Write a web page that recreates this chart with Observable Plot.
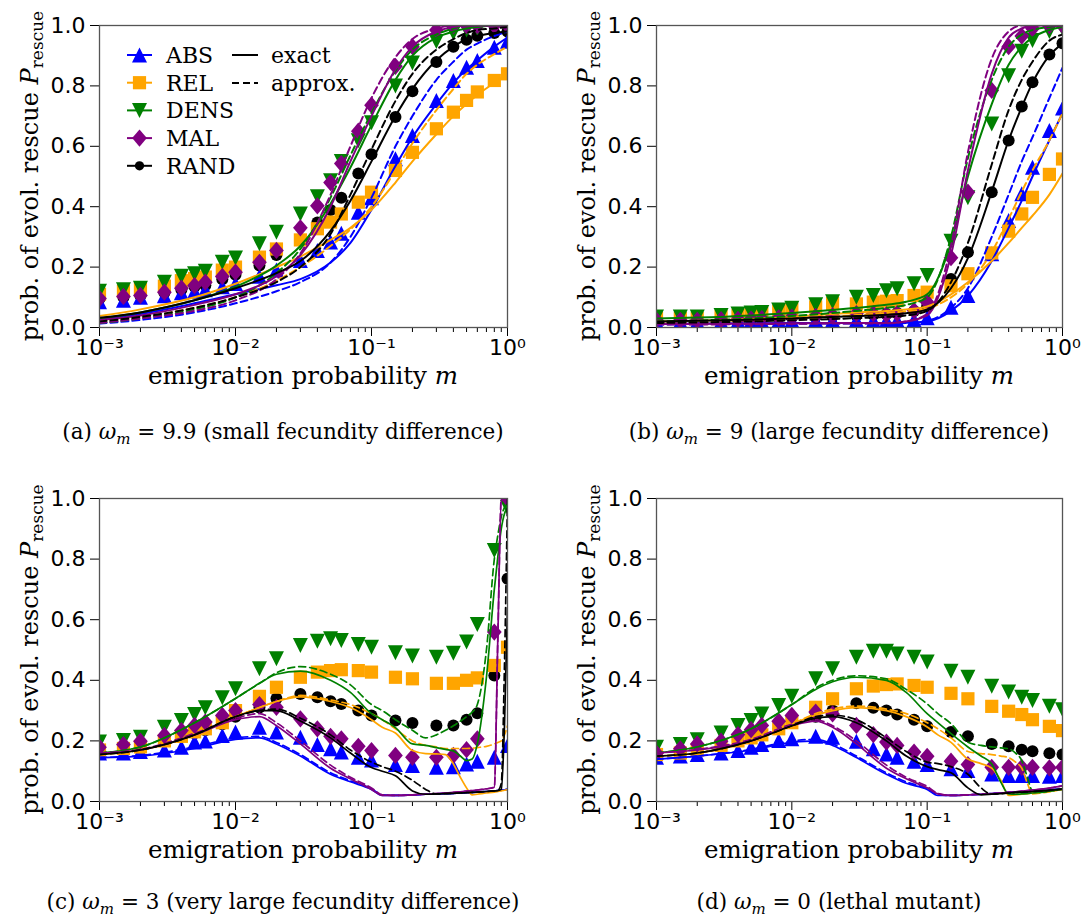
<!DOCTYPE html>
<html><head><meta charset="utf-8">
<script src="https://cdn.jsdelivr.net/npm/d3@7"></script>
<script src="https://cdn.jsdelivr.net/npm/@observablehq/plot@0.6"></script>
<style>
body{margin:0;background:#fff;}
#wrap{position:relative;width:1084px;height:918px;overflow:hidden;}
#wrap svg{position:absolute;}
</style></head><body><div id="wrap"></div>
<script>
// ---------------- data ----------------
const strategies = ["ABS","REL","DENS","MAL","RAND"];
const colors = ["#0000ff","#ffa500","#008000","#800080","#000000"];
const yTicks = [0,0.2,0.4,0.6,0.8,1.0];
const xMajor = [0.001,0.01,0.1,1];
const xTickLabels = ["10⁻³","10⁻²","10⁻¹","10⁰"];
const captions = [
  ["(a) ","ω","m"," = 9.9 (small fecundity difference)"],
  ["(b) ","ω","m"," = 9 (large fecundity difference)"],
  ["(c) ","ω","m"," = 3 (very large fecundity difference)"],
  ["(d) ","ω","m"," = 0 (lethal mutant)"]
];

// simulation points (markers)
const simM = [0.001,0.0015,0.002,0.003,0.004,0.005,0.006,0.008,0.01,0.015,0.02,0.03,0.04,0.05,0.06,0.08,0.1,0.15,0.2,0.3,0.4,0.5,0.6,0.8,1.0];

const a_ABS  = [0.085,0.09,0.10,0.105,0.115,0.12,0.125,0.135,0.146,0.17,0.19,0.222,0.255,0.283,0.312,0.382,0.43,0.559,0.636,0.752,0.818,0.862,0.884,0.928,0.948];
const a_REL  = [0.11,0.12,0.13,0.137,0.155,0.162,0.167,0.19,0.20,0.233,0.26,0.29,0.327,0.349,0.376,0.415,0.448,0.52,0.58,0.658,0.713,0.752,0.78,0.818,0.84];
const a_DENS = [0.12,0.125,0.13,0.15,0.17,0.178,0.186,0.216,0.23,0.277,0.315,0.376,0.433,0.486,0.55,0.618,0.678,0.8,0.876,0.947,0.975,0.985,0.99,0.995,1.0];
const a_MAL  = [0.096,0.103,0.106,0.117,0.13,0.139,0.15,0.169,0.183,0.216,0.255,0.33,0.403,0.48,0.543,0.65,0.736,0.865,0.93,0.985,1.0,1.0,1.0,1.0,1.0];
const a_RAND = [0.095,0.1,0.105,0.115,0.125,0.135,0.14,0.16,0.175,0.205,0.24,0.29,0.348,0.389,0.43,0.51,0.574,0.697,0.782,0.879,0.93,0.953,0.966,0.975,0.98];

const b_ABS  = [0.02,0.02,0.02,0.02,0.022,0.022,0.022,0.023,0.024,0.025,0.025,0.025,0.024,0.024,0.024,0.026,0.032,0.067,0.106,0.244,0.354,0.443,0.531,0.652,0.727];
const b_REL  = [0.03,0.03,0.03,0.037,0.04,0.044,0.046,0.054,0.06,0.068,0.079,0.078,0.084,0.087,0.089,0.106,0.117,0.138,0.178,0.247,0.319,0.376,0.431,0.507,0.558];
const b_DENS = [0.035,0.035,0.035,0.04,0.045,0.048,0.05,0.058,0.064,0.075,0.085,0.1,0.106,0.122,0.128,0.145,0.172,0.286,0.43,0.674,0.834,0.915,0.95,0.98,0.99];
const b_MAL  = [0.024,0.024,0.024,0.026,0.027,0.028,0.029,0.032,0.034,0.037,0.039,0.046,0.046,0.043,0.046,0.056,0.084,0.231,0.448,0.785,0.93,0.965,0.99,1.0,1.0];
const b_RAND = [0.025,0.025,0.026,0.027,0.028,0.029,0.03,0.032,0.034,0.036,0.038,0.04,0.042,0.045,0.048,0.055,0.07,0.161,0.249,0.448,0.619,0.732,0.812,0.904,0.941];

const c_ABS  = [0.16,0.16,0.165,0.17,0.179,0.196,0.2,0.218,0.229,0.245,0.229,0.212,0.188,0.174,0.163,0.146,0.137,0.122,0.119,0.113,0.115,0.124,0.133,0.146,0.185];
const c_REL  = [0.17,0.175,0.18,0.2,0.215,0.23,0.24,0.26,0.30,0.347,0.377,0.41,0.427,0.432,0.435,0.432,0.427,0.41,0.405,0.39,0.39,0.40,0.408,0.449,0.509];
const c_DENS = [0.196,0.201,0.212,0.245,0.267,0.287,0.309,0.342,0.372,0.438,0.471,0.515,0.529,0.537,0.531,0.518,0.509,0.491,0.48,0.476,0.489,0.526,0.584,0.828,0.97];
const c_MAL  = [0.179,0.188,0.199,0.218,0.234,0.251,0.262,0.284,0.30,0.32,0.311,0.273,0.24,0.215,0.207,0.182,0.168,0.152,0.146,0.146,0.152,0.171,0.207,0.559,1.0];
const c_RAND = [0.165,0.17,0.18,0.2,0.215,0.225,0.235,0.255,0.28,0.31,0.34,0.355,0.344,0.331,0.322,0.30,0.284,0.267,0.259,0.251,0.251,0.27,0.291,0.416,0.735];

const d_ABS  = [0.146,0.15,0.155,0.16,0.168,0.179,0.188,0.201,0.207,0.215,0.212,0.199,0.174,0.157,0.146,0.133,0.122,0.108,0.102,0.091,0.086,0.086,0.086,0.083,0.086];
const d_REL  = [0.155,0.16,0.17,0.185,0.2,0.21,0.22,0.24,0.26,0.311,0.339,0.372,0.381,0.386,0.388,0.383,0.377,0.357,0.339,0.314,0.298,0.287,0.27,0.248,0.234];
const d_DENS = [0.179,0.188,0.204,0.226,0.251,0.267,0.289,0.317,0.347,0.405,0.438,0.476,0.496,0.496,0.487,0.476,0.46,0.43,0.41,0.38,0.361,0.344,0.333,0.314,0.303];
const d_MAL  = [0.159,0.174,0.19,0.199,0.221,0.237,0.251,0.265,0.284,0.295,0.289,0.251,0.221,0.196,0.185,0.163,0.149,0.133,0.122,0.113,0.113,0.113,0.113,0.111,0.113];
const d_RAND = [0.155,0.16,0.17,0.185,0.2,0.21,0.22,0.24,0.26,0.28,0.3,0.324,0.309,0.30,0.287,0.27,0.248,0.229,0.215,0.19,0.182,0.171,0.166,0.159,0.155];

// analytic curves (exact = solid, approx = dashed)
const gridAB = [0.001,0.002,0.005,0.01,0.02,0.03,0.05,0.07,0.1,0.15,0.2,0.3,0.4,0.5,0.6,0.8,1.0];
const a_ABS_ex  = [0.028,0.045,0.08,0.11,0.14,0.16,0.215,0.28,0.39,0.535,0.63,0.74,0.81,0.855,0.885,0.93,0.96];
const a_ABS_ap  = [0.013,0.025,0.05,0.08,0.12,0.15,0.215,0.3,0.43,0.6,0.7,0.82,0.88,0.92,0.94,0.965,0.98];
const a_REL_ex  = [0.038,0.06,0.1,0.145,0.2,0.235,0.29,0.33,0.39,0.48,0.55,0.64,0.7,0.74,0.77,0.81,0.84];
const a_REL_ap  = [0.02,0.035,0.065,0.1,0.155,0.2,0.27,0.325,0.4,0.52,0.61,0.72,0.79,0.84,0.87,0.905,0.93];
const a_DENS_ex = [0.03,0.05,0.09,0.135,0.205,0.27,0.41,0.53,0.67,0.82,0.9,0.96,0.98,0.99,0.995,1.0,1.0];
const a_DENS_ap = [0.015,0.03,0.06,0.1,0.18,0.26,0.43,0.57,0.71,0.85,0.92,0.97,0.99,1.0,1.0,1.0,1.0];
const a_MAL_ex  = [0.025,0.04,0.075,0.11,0.17,0.24,0.4,0.55,0.7,0.855,0.93,0.98,0.995,1.0,1.0,1.0,1.0];
const a_MAL_ap  = [0.015,0.03,0.055,0.09,0.16,0.245,0.44,0.6,0.76,0.895,0.955,0.99,1.0,1.0,1.0,1.0,1.0];
const a_RAND_ex = [0.032,0.05,0.09,0.13,0.18,0.22,0.32,0.42,0.55,0.7,0.79,0.885,0.93,0.955,0.965,0.975,0.98];
const a_RAND_ap = [0.02,0.035,0.065,0.1,0.15,0.2,0.31,0.44,0.59,0.75,0.84,0.92,0.955,0.975,0.985,0.99,0.995];

const b_ABS_ex  = [0.012,0.013,0.014,0.015,0.015,0.015,0.015,0.016,0.02,0.055,0.105,0.22,0.33,0.42,0.5,0.62,0.71];
const b_ABS_ap  = [0.01,0.011,0.012,0.013,0.013,0.013,0.013,0.015,0.022,0.065,0.13,0.3,0.44,0.55,0.63,0.76,0.86];
const b_REL_ex  = [0.02,0.022,0.028,0.035,0.045,0.05,0.055,0.06,0.07,0.11,0.15,0.22,0.28,0.33,0.37,0.44,0.51];
const b_REL_ap  = [0.015,0.017,0.022,0.028,0.036,0.041,0.048,0.054,0.063,0.1,0.145,0.25,0.36,0.45,0.52,0.62,0.71];
const b_DENS_ex = [0.03,0.033,0.04,0.048,0.058,0.065,0.075,0.085,0.11,0.28,0.5,0.74,0.87,0.93,0.96,0.985,0.995];
const b_DENS_ap = [0.02,0.023,0.03,0.038,0.048,0.055,0.065,0.075,0.1,0.3,0.56,0.82,0.93,0.97,0.985,0.995,1.0];
const b_MAL_ex  = [0.012,0.012,0.013,0.014,0.015,0.015,0.015,0.02,0.04,0.24,0.52,0.84,0.96,0.99,1.0,1.0,1.0];
const b_MAL_ap  = [0.01,0.01,0.011,0.012,0.013,0.013,0.014,0.02,0.045,0.27,0.58,0.89,0.98,1.0,1.0,1.0,1.0];
const b_RAND_ex = [0.02,0.022,0.026,0.03,0.035,0.038,0.042,0.047,0.06,0.13,0.23,0.45,0.62,0.73,0.81,0.9,0.94];
const b_RAND_ap = [0.015,0.017,0.02,0.024,0.028,0.031,0.035,0.04,0.055,0.15,0.28,0.54,0.72,0.82,0.88,0.95,0.97];

const gridCD = [0.001,0.002,0.005,0.01,0.015,0.02,0.03,0.05,0.07,0.1,0.12,0.15,0.2,0.25,0.3,0.35,0.4,0.45,0.5,0.55,0.6,0.7,0.8,0.85,0.9,0.95,1.0];
const c_ABS_ex  = [0.145,0.15,0.175,0.205,0.21,0.19,0.15,0.09,0.065,0.04,0.02,0.02,0.022,0.024,0.025,0.026,0.027,0.028,0.029,0.03,0.031,0.033,0.035,0.036,0.037,0.038,0.04];
const c_ABS_ap  = [0.145,0.152,0.18,0.21,0.215,0.195,0.155,0.095,0.068,0.042,0.022,0.02,0.022,0.024,0.025,0.026,0.027,0.028,0.029,0.03,0.031,0.033,0.035,0.036,0.037,0.038,0.04];
const c_REL_ex  = [0.155,0.17,0.22,0.28,0.31,0.33,0.345,0.33,0.31,0.27,0.245,0.226,0.168,0.158,0.157,0.155,0.124,0.08,0.045,0.022,0.024,0.028,0.031,0.033,0.035,0.037,0.04];
const c_REL_ap  = [0.155,0.17,0.22,0.28,0.31,0.33,0.35,0.335,0.32,0.29,0.27,0.24,0.2,0.185,0.18,0.175,0.175,0.175,0.175,0.176,0.178,0.182,0.19,0.195,0.2,0.22,0.25];
const c_DENS_ex = [0.16,0.18,0.26,0.34,0.39,0.42,0.43,0.40,0.36,0.29,0.27,0.244,0.19,0.185,0.178,0.172,0.167,0.15,0.135,0.14,0.19,0.41,0.7,0.81,0.9,0.95,0.97];
const c_DENS_ap = [0.16,0.18,0.26,0.34,0.39,0.425,0.445,0.42,0.385,0.32,0.3,0.27,0.235,0.21,0.22,0.235,0.25,0.265,0.28,0.295,0.32,0.5,0.8,0.88,0.94,0.97,0.98];
const c_MAL_ex  = [0.16,0.17,0.22,0.27,0.28,0.25,0.19,0.11,0.075,0.04,0.02,0.02,0.022,0.024,0.026,0.028,0.03,0.032,0.034,0.036,0.038,0.042,0.047,0.55,1.0,1.0,1.0];
const c_MAL_ap  = [0.16,0.172,0.225,0.275,0.29,0.26,0.2,0.12,0.08,0.045,0.022,0.02,0.022,0.024,0.026,0.028,0.03,0.032,0.034,0.036,0.038,0.042,0.047,0.55,1.0,1.0,1.0];
const c_RAND_ex = [0.155,0.17,0.22,0.28,0.3,0.3,0.266,0.21,0.16,0.112,0.1,0.085,0.035,0.024,0.025,0.026,0.027,0.028,0.029,0.03,0.031,0.033,0.035,0.036,0.04,0.25,0.64];
const c_RAND_ap = [0.155,0.17,0.22,0.28,0.3,0.305,0.275,0.22,0.17,0.13,0.115,0.1,0.07,0.04,0.025,0.026,0.027,0.028,0.029,0.03,0.031,0.033,0.035,0.036,0.06,0.45,1.0];

const d_ABS_ex  = [0.14,0.15,0.17,0.195,0.2,0.185,0.145,0.09,0.06,0.04,0.02,0.02,0.022,0.024,0.026,0.028,0.03,0.031,0.032,0.033,0.034,0.036,0.038,0.039,0.04,0.041,0.042];
const d_ABS_ap  = [0.14,0.15,0.172,0.2,0.205,0.19,0.15,0.095,0.065,0.042,0.022,0.02,0.022,0.024,0.026,0.028,0.03,0.031,0.032,0.033,0.034,0.036,0.038,0.039,0.04,0.041,0.042];
const d_REL_ex  = [0.15,0.16,0.2,0.255,0.285,0.3,0.31,0.3,0.28,0.246,0.22,0.195,0.14,0.125,0.11,0.07,0.02,0.022,0.024,0.026,0.028,0.031,0.034,0.036,0.038,0.039,0.04];
const d_REL_ap  = [0.15,0.16,0.2,0.255,0.29,0.305,0.315,0.305,0.29,0.26,0.24,0.21,0.165,0.158,0.155,0.15,0.145,0.13,0.11,0.06,0.025,0.028,0.032,0.034,0.036,0.038,0.04];
const d_DENS_ex = [0.16,0.18,0.24,0.32,0.37,0.395,0.41,0.40,0.36,0.29,0.26,0.224,0.18,0.15,0.124,0.064,0.025,0.024,0.025,0.026,0.028,0.031,0.034,0.036,0.038,0.039,0.04];
const d_DENS_ap = [0.16,0.18,0.24,0.32,0.375,0.40,0.415,0.405,0.37,0.322,0.29,0.257,0.196,0.185,0.18,0.177,0.174,0.16,0.135,0.08,0.035,0.03,0.034,0.036,0.038,0.039,0.04];
const d_MAL_ex  = [0.16,0.17,0.2,0.25,0.265,0.245,0.19,0.11,0.075,0.045,0.025,0.02,0.022,0.024,0.026,0.028,0.03,0.032,0.034,0.036,0.038,0.041,0.044,0.046,0.048,0.05,0.052];
const d_MAL_ap  = [0.16,0.172,0.205,0.255,0.27,0.25,0.2,0.12,0.08,0.05,0.027,0.02,0.022,0.024,0.026,0.028,0.03,0.032,0.034,0.036,0.038,0.041,0.044,0.046,0.048,0.05,0.052];
const d_RAND_ex = [0.15,0.16,0.2,0.25,0.275,0.28,0.26,0.2,0.15,0.115,0.105,0.095,0.045,0.022,0.024,0.026,0.028,0.03,0.031,0.032,0.033,0.035,0.037,0.038,0.039,0.04,0.041];
const d_RAND_ap = [0.15,0.16,0.2,0.25,0.28,0.285,0.27,0.21,0.165,0.13,0.125,0.115,0.09,0.045,0.024,0.026,0.028,0.03,0.031,0.032,0.033,0.035,0.037,0.038,0.039,0.04,0.041];

// ---------------- symbols ----------------
const rad = s => Math.sqrt(s / Math.PI);
const triUp = {draw(c, s){const h = rad(s); c.moveTo(0,-h); c.lineTo(h,h); c.lineTo(-h,h); c.closePath();}};
const triDown = {draw(c, s){const h = rad(s); c.moveTo(0,h); c.lineTo(h,-h); c.lineTo(-h,-h); c.closePath();}};
const square = {draw(c, s){const h = rad(s)*0.88; c.moveTo(-h,-h); c.lineTo(h,-h); c.lineTo(h,h); c.lineTo(-h,h); c.closePath();}};
const diamond = {draw(c, s){const r = rad(s); const w = r*0.98, h = r*1.15; c.moveTo(0,-h); c.lineTo(w,0); c.lineTo(0,h); c.lineTo(-w,0); c.closePath();}};
const circle = {draw(c, s){const r = rad(s)*0.8; c.moveTo(r,0); c.arc(0,0,r,0,2*Math.PI);}};
const symbols = [triUp, square, triDown, diamond, circle];
const R = 7.5;
// marker drawing order (RAND markers lie beneath the others)
const markerOrder = [4, 0, 1, 2, 3];

// ---------------- panels ----------------
const panels = [
  {sim:[a_ABS,a_REL,a_DENS,a_MAL,a_RAND], grid:gridAB,
   ex:[a_ABS_ex,a_REL_ex,a_DENS_ex,a_MAL_ex,a_RAND_ex], ap:[a_ABS_ap,a_REL_ap,a_DENS_ap,a_MAL_ap,a_RAND_ap],
   left:0, top:0, w:542, h:470, ml:99, mr:35, mt:25, mb:143, lw:2, legend:true, cap:captions[0], capDy:112},
  {sim:[b_ABS,b_REL,b_DENS,b_MAL,b_RAND], grid:gridAB,
   ex:[b_ABS_ex,b_REL_ex,b_DENS_ex,b_MAL_ex,b_RAND_ex], ap:[b_ABS_ap,b_REL_ap,b_DENS_ap,b_MAL_ap,b_RAND_ap],
   left:542, top:0, w:542, h:470, ml:114, mr:22, mt:25, mb:143, lw:2, legend:false, cap:captions[1], capDy:112},
  {sim:[c_ABS,c_REL,c_DENS,c_MAL,c_RAND], grid:gridCD,
   ex:[c_ABS_ex,c_REL_ex,c_DENS_ex,c_MAL_ex,c_RAND_ex], ap:[c_ABS_ap,c_REL_ap,c_DENS_ap,c_MAL_ap,c_RAND_ap],
   left:0, top:470, w:542, h:448, ml:99, mr:35, mt:28, mb:117, lw:1.7, legend:false, cap:captions[2], capDy:108},
  {sim:[d_ABS,d_REL,d_DENS,d_MAL,d_RAND], grid:gridCD,
   ex:[d_ABS_ex,d_REL_ex,d_DENS_ex,d_MAL_ex,d_RAND_ex], ap:[d_ABS_ap,d_REL_ap,d_DENS_ap,d_MAL_ap,d_RAND_ap],
   left:542, top:470, w:542, h:448, ml:114, mr:22, mt:28, mb:117, lw:1.7, legend:false, cap:captions[3], capDy:108}
];

const xMinor = [];
for (const e of [0.001,0.01,0.1]) for (let k = 2; k <= 9; k++) xMinor.push(+(k*e).toPrecision(3));

const wrap = document.getElementById("wrap");

for (const p of panels) {
  const marks = [
    Plot.axisY({ticks: yTicks, tickFormat: d => d.toFixed(1), tickSize: 9, tickPadding: 5, label: null}),
    Plot.axisX({ticks: xMajor, tickFormat: d => xTickLabels[xMajor.indexOf(d)], tickSize: 9, tickPadding: 3, label: null}),
    Plot.axisX({ticks: xMinor, tickFormat: () => "", tickSize: 5, label: null})
  ];
  for (const i of markerOrder) {
    const pts = simM.map((m, j) => ({m, p: p.sim[i][j]}));
    marks.push(Plot.dot(pts, {x: "m", y: "p", symbol: symbols[i], r: R, fill: colors[i], clip: true}));
  }
  strategies.forEach((s, i) => {
    const ex = p.grid.map((m, j) => ({m, p: p.ex[i][j]}));
    const ap = p.grid.map((m, j) => ({m, p: p.ap[i][j]}));
    marks.push(Plot.line(ex, {x: "m", y: "p", stroke: colors[i], strokeWidth: p.lw, curve: "monotone-x", clip: true}));
    marks.push(Plot.line(ap, {x: "m", y: "p", stroke: colors[i], strokeWidth: p.lw, strokeDasharray: "7,4", curve: "monotone-x", clip: true}));
  });
  marks.push(Plot.frame({stroke: "#555", strokeWidth: 1.3}));

  const svgEl = Plot.plot({
    width: p.w, height: p.h,
    marginLeft: p.ml, marginRight: p.mr, marginTop: p.mt, marginBottom: p.mb,
    x: {type: "log", domain: [0.001, 1]},
    y: {domain: [0, 1]},
    style: {fontFamily: "DejaVu Sans", fontSize: "22px", color: "black", background: "white", overflow: "visible"},
    marks
  });
  svgEl.style.left = p.left + "px";
  svgEl.style.top = p.top + "px";
  wrap.appendChild(svgEl);

  const svg = d3.select(svgEl);
  const plotBottom = p.h - p.mb;
  const cx = p.ml + (p.w - p.ml - p.mr) / 2;
  const cy = p.mt + (plotBottom - p.mt) / 2;

  // y-axis label
  const yl = svg.append("text")
    .attr("transform", `translate(${p.ml - 61},${cy}) rotate(-90)`)
    .attr("text-anchor", "middle").attr("font-family", "DejaVu Serif").attr("font-size", 24).attr("fill", "black");
  yl.append("tspan").text("prob. of evol. rescue ");
  yl.append("tspan").attr("font-style", "italic").text("P");
  yl.append("tspan").attr("font-size", 17).attr("dy", 5).text("rescue");

  // x-axis label
  const xl = svg.append("text")
    .attr("x", cx).attr("y", plotBottom + 57)
    .attr("text-anchor", "middle").attr("font-family", "DejaVu Serif").attr("font-size", 24.5).attr("fill", "black");
  xl.append("tspan").text("emigration probability ");
  xl.append("tspan").attr("font-style", "italic").text("m");

  // caption
  const ct = svg.append("text")
    .attr("x", cx - 20).attr("y", plotBottom + p.capDy)
    .attr("text-anchor", "middle").attr("font-family", "DejaVu Serif").attr("font-size", 21.5).attr("fill", "black");
  ct.append("tspan").text(p.cap[0]);
  ct.append("tspan").attr("font-style", "italic").text(p.cap[1]);
  ct.append("tspan").attr("font-style", "italic").attr("font-size", 15).attr("dy", 5).text(p.cap[2]);
  ct.append("tspan").attr("dy", -5).text(p.cap[3]);

  // legend (panel a)
  if (p.legend) {
    const lg = svg.append("g").attr("text-anchor", "start");
    const size = Math.PI * R * R;
    strategies.forEach((s, i) => {
      const y = 55 + i * 27.7;
      lg.append("line").attr("x1", 127).attr("x2", 152).attr("y1", y).attr("y2", y)
        .attr("stroke", colors[i]).attr("stroke-width", 2);
      const path = d3.path(); symbols[i].draw(path, i === 4 ? size * 0.6 : size);
      lg.append("path").attr("d", path.toString()).attr("transform", `translate(139.5,${y})`).attr("fill", colors[i]);
      lg.append("text").attr("x", 166).attr("y", y + 8).attr("text-anchor", "start")
        .attr("font-family", "DejaVu Serif").attr("font-size", 22).attr("fill", "black").text(s);
    });
    lg.append("line").attr("x1", 232).attr("x2", 258).attr("y1", 55).attr("y2", 55).attr("stroke", "black").attr("stroke-width", 2);
    lg.append("text").attr("x", 271).attr("y", 63).attr("text-anchor", "start").attr("font-family", "DejaVu Serif").attr("font-size", 22).text("exact");
    lg.append("line").attr("x1", 232).attr("x2", 258).attr("y1", 83).attr("y2", 83).attr("stroke", "black").attr("stroke-width", 2).attr("stroke-dasharray", "7,4");
    lg.append("text").attr("x", 271).attr("y", 91).attr("text-anchor", "start").attr("font-family", "DejaVu Serif").attr("font-size", 22).text("approx.");
  }
}
</script>
</body></html>
